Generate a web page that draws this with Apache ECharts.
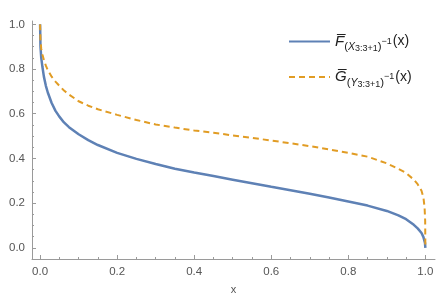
<!DOCTYPE html>
<html>
<head>
<meta charset="utf-8">
<script src="https://cdn.jsdelivr.net/npm/echarts@6/dist/echarts.min.js"></script>
<style>html,body{margin:0;padding:0;background:#fff;}#c{width:444px;height:296px;}</style>
</head>
<body>
<div id="c"></div>
<script>
const xBlue = [0, 0.001, 0.003, 0.006, 0.01, 0.015, 0.02, 0.03, 0.04, 0.05, 0.062, 0.075, 0.1, 0.125, 0.15, 0.2, 0.25, 0.3, 0.35, 0.4, 0.45, 0.5, 0.55, 0.6, 0.65, 0.7, 0.75, 0.8, 0.85, 0.9, 0.93, 0.95, 0.97, 0.98, 0.99, 0.995, 0.999, 1.0];
const yBlue = [1.0, 0.90, 0.85, 0.81, 0.765, 0.725, 0.695, 0.648, 0.613, 0.587, 0.561, 0.54, 0.508, 0.482, 0.46, 0.425, 0.398, 0.375, 0.354, 0.337, 0.321, 0.305, 0.289, 0.273, 0.258, 0.242, 0.225, 0.207, 0.189, 0.165, 0.145, 0.128, 0.103, 0.087, 0.066, 0.048, 0.022, 0];
const xOrange = [0, 0.001, 0.003, 0.006, 0.01, 0.015, 0.02, 0.03, 0.04, 0.05, 0.062, 0.075, 0.1, 0.125, 0.15, 0.2, 0.25, 0.3, 0.35, 0.4, 0.45, 0.5, 0.55, 0.6, 0.65, 0.7, 0.75, 0.8, 0.85, 0.9, 0.93, 0.95, 0.97, 0.98, 0.99, 0.995, 0.998, 0.9995, 1.0];
const yOrange = [1.0, 0.93, 0.89, 0.865, 0.84, 0.815, 0.795, 0.766, 0.744, 0.725, 0.704, 0.686, 0.656, 0.636, 0.62, 0.595, 0.572, 0.552, 0.538, 0.525, 0.515, 0.503, 0.492, 0.48, 0.468, 0.455, 0.44, 0.425, 0.408, 0.378, 0.353, 0.335, 0.305, 0.285, 0.255, 0.225, 0.18, 0.12, 0];
const xTicks = [0, 0.2, 0.4, 0.6, 0.8, 1.0];
const yTicks = [0, 0.2, 0.4, 0.6, 0.8, 1.0];
const xMinor = [0.05, 0.1, 0.15, 0.25, 0.3, 0.35, 0.45, 0.5, 0.55, 0.65, 0.7, 0.75, 0.85, 0.9, 0.95];
const yMinor = [0.05, 0.1, 0.15, 0.25, 0.3, 0.35, 0.45, 0.5, 0.55, 0.65, 0.7, 0.75, 0.85, 0.9, 0.95];
const seriesNames = ['F', 'G'];

const chart = echarts.init(document.getElementById('c'), null, {renderer: 'canvas'});
const axisColor = '#9a9a9a';
const labelColor = '#555555';
const fontFam = 'Liberation Sans, Arial, sans-serif';
const xRange = {min: -0.021, max: 1.025};
const yRange = {min: -0.05, max: 1.015};

function legendFmt(name) {
  if (name === 'F') return '{big|F\u0305}{par|(}{X|X}{s|3:3+1}{par|)}{sup|\u22121}{big2|(x)}';
  return '{big|G\u0305}{par|(}{X|Y}{s|3:3+1}{par|)}{sup|\u22121}{big2|(x)}';
}

chart.setOption({
  animation: false,
  backgroundColor: '#ffffff',
  grid: {left: 32, right: 9, top: 21, bottom: 37, containLabel: false, outerBoundsMode: 'none'},
  legend: {
    orient: 'vertical',
    left: 283, top: 29,
    itemWidth: 41, itemHeight: 10, itemGap: 16,
    data: seriesNames,
    formatter: legendFmt,
    itemStyle: {opacity: 0, borderWidth: 0},
    textStyle: {
      color: '#222', fontFamily: fontFam,
      rich: {
        big: {fontSize: 15, fontStyle: 'italic', fontFamily: fontFam, color: '#222'},
        big2: {fontSize: 14, fontFamily: fontFam, color: '#222'},
        par: {fontSize: 11.5, fontFamily: fontFam, color: '#222', padding: [11, 0, 0, 0]},
        X: {fontSize: 10.5, fontStyle: 'italic', fontFamily: fontFam, color: '#222', padding: [12, 0, 0, 0]},
        s: {fontSize: 9, fontFamily: fontFam, color: '#222', padding: [15, 0, 0, 0]},
        sup: {fontSize: 9, fontFamily: fontFam, color: '#222', padding: [0, 1, 0, 0]}
      }
    }
  },
  xAxis: [{
    type: 'value', ...xRange,
    name: 'x', nameLocation: 'middle', nameGap: 25,
    nameTextStyle: {color: labelColor, fontSize: 11, fontFamily: fontFam},
    axisLine: {show: true, onZero: false, lineStyle: {color: axisColor, width: 1}},
    axisTick: {show: true, inside: true, length: 4, customValues: xTicks, lineStyle: {color: axisColor}},
    axisLabel: {show: true, customValues: xTicks, margin: 7, color: labelColor, fontSize: 11.5, fontFamily: fontFam, formatter: v => v.toFixed(1)},
    splitLine: {show: false}, minorTick: {show: false}
  }, {
    type: 'value', ...xRange, position: 'bottom', gridIndex: 0,
    axisLine: {show: false, onZero: false},
    axisTick: {show: true, inside: true, length: 2, customValues: xMinor, lineStyle: {color: axisColor}},
    axisLabel: {show: false}, splitLine: {show: false}
  }],
  yAxis: [{
    type: 'value', ...yRange,
    axisLine: {show: true, onZero: false, lineStyle: {color: axisColor, width: 1}},
    axisTick: {show: true, inside: true, length: 4, customValues: yTicks, lineStyle: {color: axisColor}},
    axisLabel: {show: true, customValues: yTicks, margin: 7, color: labelColor, fontSize: 11.5, fontFamily: fontFam, formatter: v => v.toFixed(1)},
    splitLine: {show: false}
  }, {
    type: 'value', ...yRange, position: 'left', gridIndex: 0,
    axisLine: {show: false, onZero: false},
    axisTick: {show: true, inside: true, length: 2, customValues: yMinor, lineStyle: {color: axisColor}},
    axisLabel: {show: false}, splitLine: {show: false}
  }],
  series: [{
    name: 'F', type: 'line', xAxisIndex: 0, yAxisIndex: 0,
    showSymbol: false, symbol: 'none', smooth: false,
    lineStyle: {color: '#5E81B5', width: 2.5},
    itemStyle: {color: '#5E81B5'},
    data: xBlue.map((x, i) => [x, yBlue[i]])
  }, {
    name: 'G', type: 'line', xAxisIndex: 0, yAxisIndex: 0,
    showSymbol: false, symbol: 'none', smooth: false,
    lineStyle: {color: '#E19C24', width: 2, type: [6, 4]},
    itemStyle: {color: '#E19C24'},
    data: xOrange.map((x, i) => [x, yOrange[i]])
  }]
});
</script>
</body>
</html>
